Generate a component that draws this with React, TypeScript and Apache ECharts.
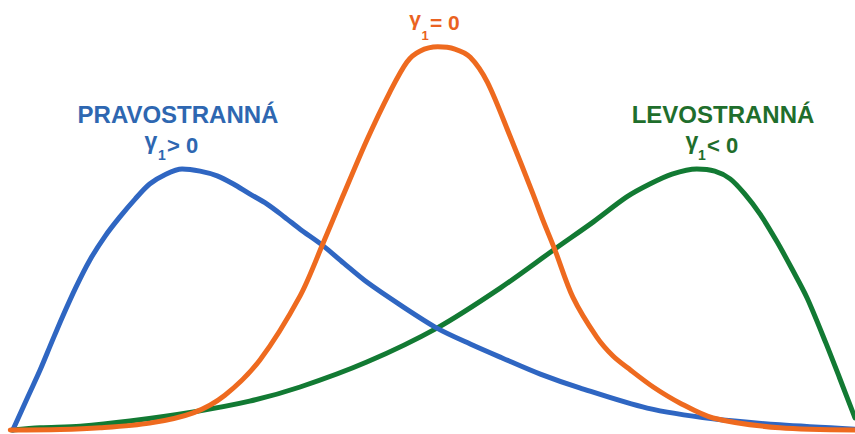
import React, { useEffect, useRef } from "react";
import * as echarts from "echarts";

// Horizontal position (0–100) and relative density (0–100)
const BLUE_X = [1.5, 3.3, 4.7, 6.0, 7.3, 8.9, 10.5, 12.3, 14.0, 15.8, 17.5, 19.4, 21.3, 23.4, 25.4, 27.3, 29.2, 31.2, 33.3, 35.1, 37.7, 40.2, 42.9, 46.8, 51.1, 55.0, 58.8, 63.2, 67.8, 75.7, 83.4, 91.2, 100];
const BLUE_Y = [0, 7.9, 14.0, 20.2, 26.3, 33.3, 39.5, 45.1, 49.5, 53.7, 57.2, 59.5, 60.7, 60.2, 59.1, 57.2, 54.9, 52.6, 49.5, 46.7, 43.0, 38.8, 34.4, 29.1, 23.7, 20.0, 16.7, 13.0, 9.8, 5.1, 2.6, 1.2, 0.2];

const ORANGE_X = [1.2, 7.0, 11.7, 17.5, 22.6, 26.3, 30.4, 35.1, 37.7, 40.1, 42.9, 45.6, 47.6, 49.1, 51.2, 53.2, 55.0, 57.0, 59.6, 62.3, 63.5, 64.9, 67.0, 69.8, 71.7, 73.7, 76.4, 79.5, 83.4, 91.2, 100];
const ORANGE_Y = [0, 0.1, 0.5, 1.6, 4.0, 8.1, 16.3, 31.2, 43.0, 54.4, 67.4, 78.6, 85.6, 88.1, 89.1, 88.6, 86.7, 80.9, 68.6, 55.1, 48.8, 41.9, 30.9, 21.6, 17.2, 14.0, 10.0, 6.3, 2.8, 0.5, 0];

const GREEN_X = [1.4, 4.7, 9.4, 15.2, 22.6, 29.2, 35.1, 42.9, 51.1, 58.5, 64.9, 69.4, 73.3, 76.0, 78.6, 81.5, 83.6, 85.4, 87.1, 88.9, 90.9, 92.7, 94.4, 96.6, 98.2, 100];
const GREEN_Y = [0, 0.5, 0.9, 2.1, 4.2, 6.7, 10.0, 15.8, 23.7, 33.0, 42.1, 48.4, 54.2, 57.2, 59.5, 60.7, 60.2, 58.4, 54.9, 50.2, 43.7, 37.2, 30.7, 20.2, 12.1, 2.8];

const TITLES = ["PRAVOSTRANNÁ", "LEVOSTRANNÁ"];
const GAMMA = "γ";
const SUB = "1";
const RELATIONS = ["> 0", "= 0", "< 0"];

const BLUE = "#2F66C2";
const ORANGE = "#EE6A1F";
const GREEN = "#127A33";
const BLUE_TXT = "#2E67B1";
const ORANGE_TXT = "#EA6221";
const GREEN_TXT = "#1F6E2C";

const zip = (xs: number[], ys: number[]) => xs.map((x, i) => [x, ys[i]]);

const FONT = '"Liberation Sans", Arial, sans-serif';

function txt(text: string, x: number, y: number, size: number, color: string, align: string) {
  return {
    type: "text",
    x,
    y,
    z: 10,
    style: {
      text,
      fill: color,
      font: `bold ${size}px ${FONT}`,
      textAlign: align,
      align,
      textVerticalAlign: "middle",
      verticalAlign: "middle",
    },
  };
}

export default function App() {
  const ref = useRef<HTMLDivElement>(null);
  useEffect(() => {
    if (!ref.current) return;
    const chart = echarts.init(ref.current, undefined, { renderer: "svg" });
    const line = (name: string, data: number[][], color: string, z: number) => ({
      name,
      type: "line",
      data,
      smooth: 0.3,
      showSymbol: false,
      symbol: "none",
      clip: false,
      z,
      lineStyle: { color, width: 5, cap: "round", join: "round" },
    });
    chart.setOption({
      animation: false,
      backgroundColor: "#ffffff",
      grid: { left: 0, right: 0, top: 0, bottom: 4 },
      xAxis: { type: "value", min: 0, max: 100, show: false },
      yAxis: { type: "value", min: 0, max: 100, show: false },
      series: [
        line("LEVOSTRANNÁ", zip(GREEN_X, GREEN_Y), GREEN, 2),
        line("PRAVOSTRANNÁ", zip(BLUE_X, BLUE_Y), BLUE, 3),
        line("SYMETRICKÁ", zip(ORANGE_X, ORANGE_Y), ORANGE, 4),
      ],
      graphic: [
        txt(TITLES[0], 178, 114, 24, BLUE_TXT, "center"),
        txt(GAMMA, 151, 141, 23, BLUE_TXT, "center"),
        txt(SUB, 162, 155, 14, BLUE_TXT, "center"),
        txt(RELATIONS[0], 167, 145, 22, BLUE_TXT, "left"),

        txt(GAMMA, 415, 18.5, 21, ORANGE_TXT, "center"),
        txt(SUB, 425, 35, 13, ORANGE_TXT, "center"),
        txt(RELATIONS[1], 430, 22.5, 21, ORANGE_TXT, "left"),

        txt(TITLES[1], 723, 114, 24, GREEN_TXT, "center"),
        txt(GAMMA, 692, 141, 23, GREEN_TXT, "center"),
        txt(SUB, 702, 155, 14, GREEN_TXT, "center"),
        txt(RELATIONS[2], 707, 145, 22, GREEN_TXT, "left"),
      ],
    });
    return () => chart.dispose();
  }, []);
  return (
    <div
      ref={ref}
      style={{ position: "fixed", left: 0, top: 0, width: 855, height: 434, background: "#fff" }}
    />
  );
}
